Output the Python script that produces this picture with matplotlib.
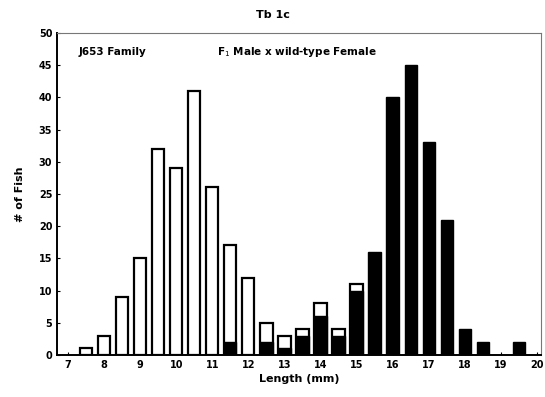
# encoding=utf-8
'''
Length distribution of fish, two families
'''
import matplotlib
matplotlib.use('Agg')
import matplotlib.pyplot as plt

# bin centres (mm) and counts for each family
open_len = [7.5, 8.0, 8.5, 9.0, 9.5, 10.0, 10.5, 11.0, 11.5, 12.0,
            12.5, 13.0, 13.5, 14.0, 14.5, 15.0]
open_count = [1, 3, 9, 15, 32, 29, 41, 26, 17, 12,
              5, 3, 4, 8, 4, 11]

filled_len = [11.5, 12.5, 13.0, 13.5, 14.0, 14.5, 15.0, 15.5, 16.0,
              16.5, 17.0, 17.5, 18.0, 18.5, 19.5]
filled_count = [2, 2, 1, 3, 6, 3, 10, 16, 40,
                45, 33, 21, 4, 2, 2]

x_ticks = list(range(7, 21))
y_ticks = list(range(0, 51, 5))

fig = plt.figure(figsize=(5.45, 3.97), dpi=100)
ax = fig.add_axes([0.105, 0.106, 0.888, 0.811])

# open bars first, black bars drawn over them
ax.bar(open_len, open_count, width=0.34, color='white',
       edgecolor='black', linewidth=1.6, zorder=2)
ax.bar(filled_len, filled_count, width=0.34, color='black',
       edgecolor='black', linewidth=1.0, zorder=3)

ax.set_xlim(6.7, 20.12)
ax.set_ylim(0, 50)
ax.set_xticks(x_ticks)
ax.set_yticks(y_ticks)
ax.tick_params(direction='in', length=2, labelsize=7, width=0.8)
for lab in ax.get_xticklabels() + ax.get_yticklabels():
    lab.set_fontweight('bold')

for side in ['left', 'bottom']:
    ax.spines[side].set_linewidth(1.4)
for side in ['top', 'right']:
    ax.spines[side].set_linewidth(0.8)
    ax.spines[side].set_color('#777777')

ax.set_xlabel('Length (mm)', fontsize=8, fontweight='bold', labelpad=3)
ax.set_ylabel('# of Fish', fontsize=8, fontweight='bold', labelpad=10)
fig.text(0.5, 0.962, 'Tb 1c', ha='center', va='center',
         fontsize=8, fontweight='bold')

ax.text(0.045, 0.94, 'J653 Family', transform=ax.transAxes,
        fontsize=7.5, fontweight='bold', va='center')
ax.text(0.33, 0.94, 'F$_1$ Male x wild-type Female', transform=ax.transAxes,
        fontsize=7.5, fontweight='bold', va='center')

fig.savefig('out.png', dpi=100)
